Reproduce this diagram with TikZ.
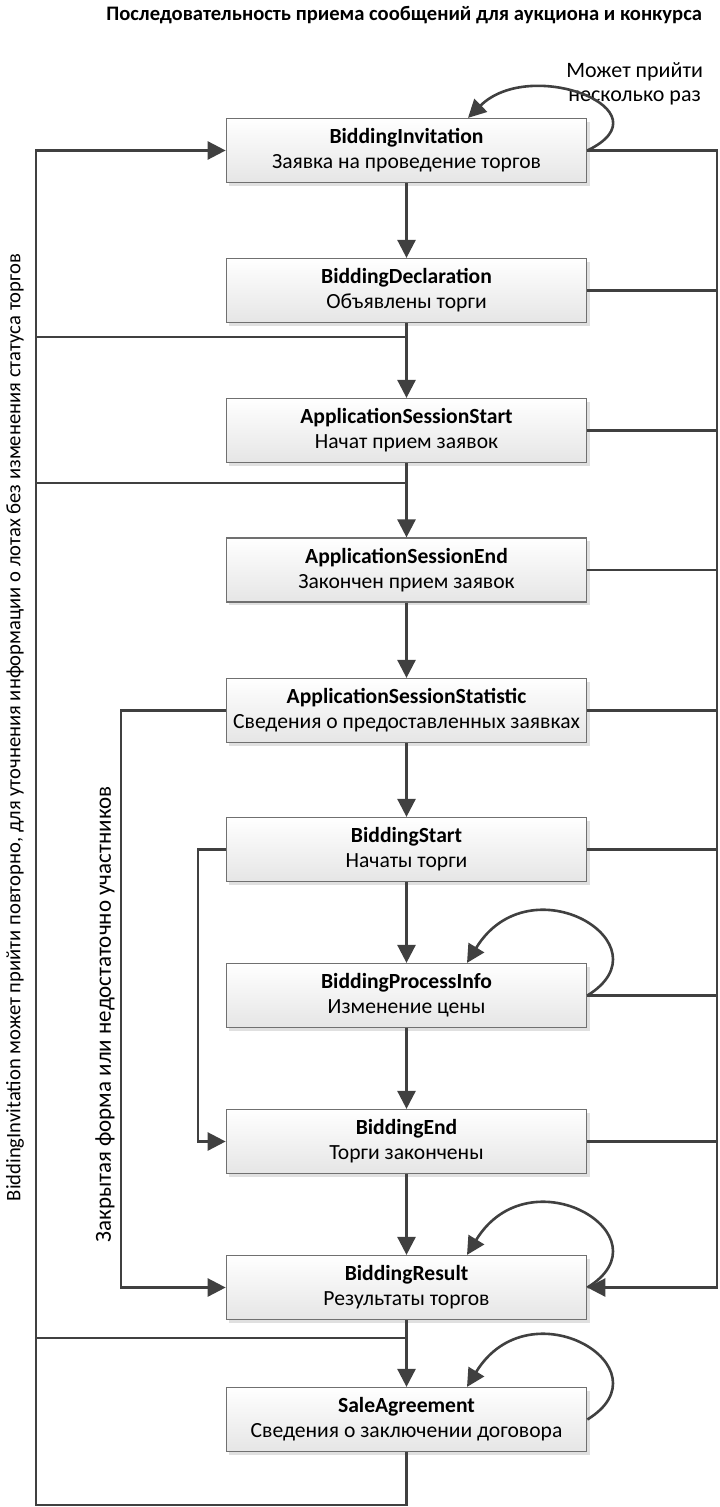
\documentclass[tikz,border=0pt]{standalone}
\usepackage{fontspec}
\setmainfont{Carlito}
\usetikzlibrary{arrows.meta,shadows}

\definecolor{wiregray}{HTML}{404040}
\definecolor{boxline}{HTML}{707070}

\begin{document}
\begin{tikzpicture}[x=0.5pt, y=-0.5pt,
  state/.style={rectangle, draw=boxline, line width=0.6pt, top color=white, bottom color=black!10,
    minimum width=180.25pt, minimum height=32pt, inner sep=0pt, align=center,
    font=\fontsize{10.8}{12.5}\selectfont,
    drop shadow={shadow xshift=1.6pt, shadow yshift=-1.6pt, fill=black!12, opacity=1}},
  wire/.style={draw=wiregray, line width=1.3pt},
  tip/.style={-{Triangle[length=9pt, width=9pt]}},
  note/.style={font=\fontsize{10.5}{12.5}\selectfont}]
  \useasboundingbox (0,0) rectangle (719,1507);

  % title and notes
  \node[anchor=east, font=\bfseries\fontsize{10.3}{12}\selectfont] (title) at (709,15) {Последовательность приема сообщений для аукциона и конкурса};
  \node[anchor=east, align=center, font=\fontsize{11}{12}\selectfont] (again) at (710,84) {Может прийти\\несколько раз};
  \node[rotate=90, font=\fontsize{10.3}{12}\selectfont] (repeat) at (15,727.5) {BiddingInvitation может прийти повторно, для уточнения информации о лотах без изменения статуса торгов};
  \node[rotate=90, font=\fontsize{11.5}{13}\selectfont] (closed) at (105,1014.5) {Закрытая форма или недостаточно участников};

  % states
  \node[state] (b1) at (406.5,150.5) {\textbf{BiddingInvitation}\\Заявка на проведение торгов};
  \node[state] (b2) at (406.5,290.5) {\textbf{BiddingDeclaration}\\Объявлены торги};
  \node[state] (b3) at (406.5,430.5) {\textbf{ApplicationSessionStart}\\Начат прием заявок};
  \node[state] (b4) at (406.5,570) {\textbf{ApplicationSessionEnd}\\Закончен прием заявок};
  \node[state] (b5) at (406.5,710.5) {\textbf{ApplicationSessionStatistic}\\Сведения о предоставленных заявках};
  \node[state] (b6) at (406.5,849.5) {\textbf{BiddingStart}\\Начаты торги};
  \node[state] (b7) at (406.5,995.5) {\textbf{BiddingProcessInfo}\\Изменение цены};
  \node[state] (b8) at (406.5,1141.5) {\textbf{BiddingEnd}\\Торги закончены};
  \node[state] (b9) at (406.5,1287.5) {\textbf{BiddingResult}\\Результаты торгов};
  \node[state] (b10) at (406.5,1419.5) {\textbf{SaleAgreement}\\Сведения о заключении договора};

  % main chain
  \draw[wire, tip] (b1.south) -- (b2.north);
  \draw[wire, tip] (b2.south) -- (b3.north);
  \draw[wire, tip] (b3.south) -- (b4.north);
  \draw[wire, tip] (b4.south) -- (b5.north);
  \draw[wire, tip] (b5.south) -- (b6.north);
  \draw[wire, tip] (b6.south) -- (b7.north);
  \draw[wire, tip] (b7.south) -- (b8.north);
  \draw[wire, tip] (b8.south) -- (b9.north);
  \draw[wire, tip] (b9.south) -- (b10.north);

  % self loops
  \draw[wire, tip] (b1.east) .. controls +(83,-40) and +(63,-62) .. ([xshift=30.75pt]b1.north);
  \draw[wire, tip] (b7.east) .. controls +(83,-51) and +(63,-103) .. ([xshift=30.25pt]b7.north);
  \draw[wire, tip] (b9.east) .. controls +(83,-51) and +(63,-103) .. ([xshift=30.25pt]b9.north);
  \draw[wire, tip] (b10.east) .. controls +(83,-51) and +(63,-103) .. ([xshift=30.25pt]b10.north);

  % right bus to BiddingResult
  \coordinate (rtop) at (717,150.5);
  \coordinate (rbot) at (717,1287.5);
  \draw[wire, tip] (b1.east) -- (rtop) -- (rbot) -- (b9.east);
  \draw[wire] (b2.east) -- (b2.east -| rtop);
  \draw[wire] (b3.east) -- (b3.east -| rtop);
  \draw[wire] (b4.east) -- (b4.east -| rtop);
  \draw[wire] (b5.east) -- (b5.east -| rtop);
  \draw[wire] (b6.east) -- (b6.east -| rtop);
  \draw[wire] (b7.east) -- (b7.east -| rtop);
  \draw[wire] (b8.east) -- (b8.east -| rtop);

  % left bus back to BiddingInvitation
  \coordinate (ltop) at (36,150.5);
  \coordinate (lbot) at (36,1505);
  \draw[wire, tip] (b10.south) -- (b10.south |- lbot) -- (lbot) -- (ltop) -- (b1.west);
  \coordinate (j2) at (406.5,337);
  \coordinate (j3) at (406.5,483);
  \coordinate (j9) at (406.5,1338);
  \draw[wire] (j2) -- (j2 -| ltop);
  \draw[wire] (j3) -- (j3 -| ltop);
  \draw[wire] (j9) -- (j9 -| ltop);

  % skips
  \coordinate (c5) at (121,710.5);
  \coordinate (c6) at (198,849.5);
  \draw[wire, tip] (b5.west) -- (c5) |- (b9.west);
  \draw[wire, tip] (b6.west) -- (c6) |- (b8.west);
\end{tikzpicture}
\end{document}
